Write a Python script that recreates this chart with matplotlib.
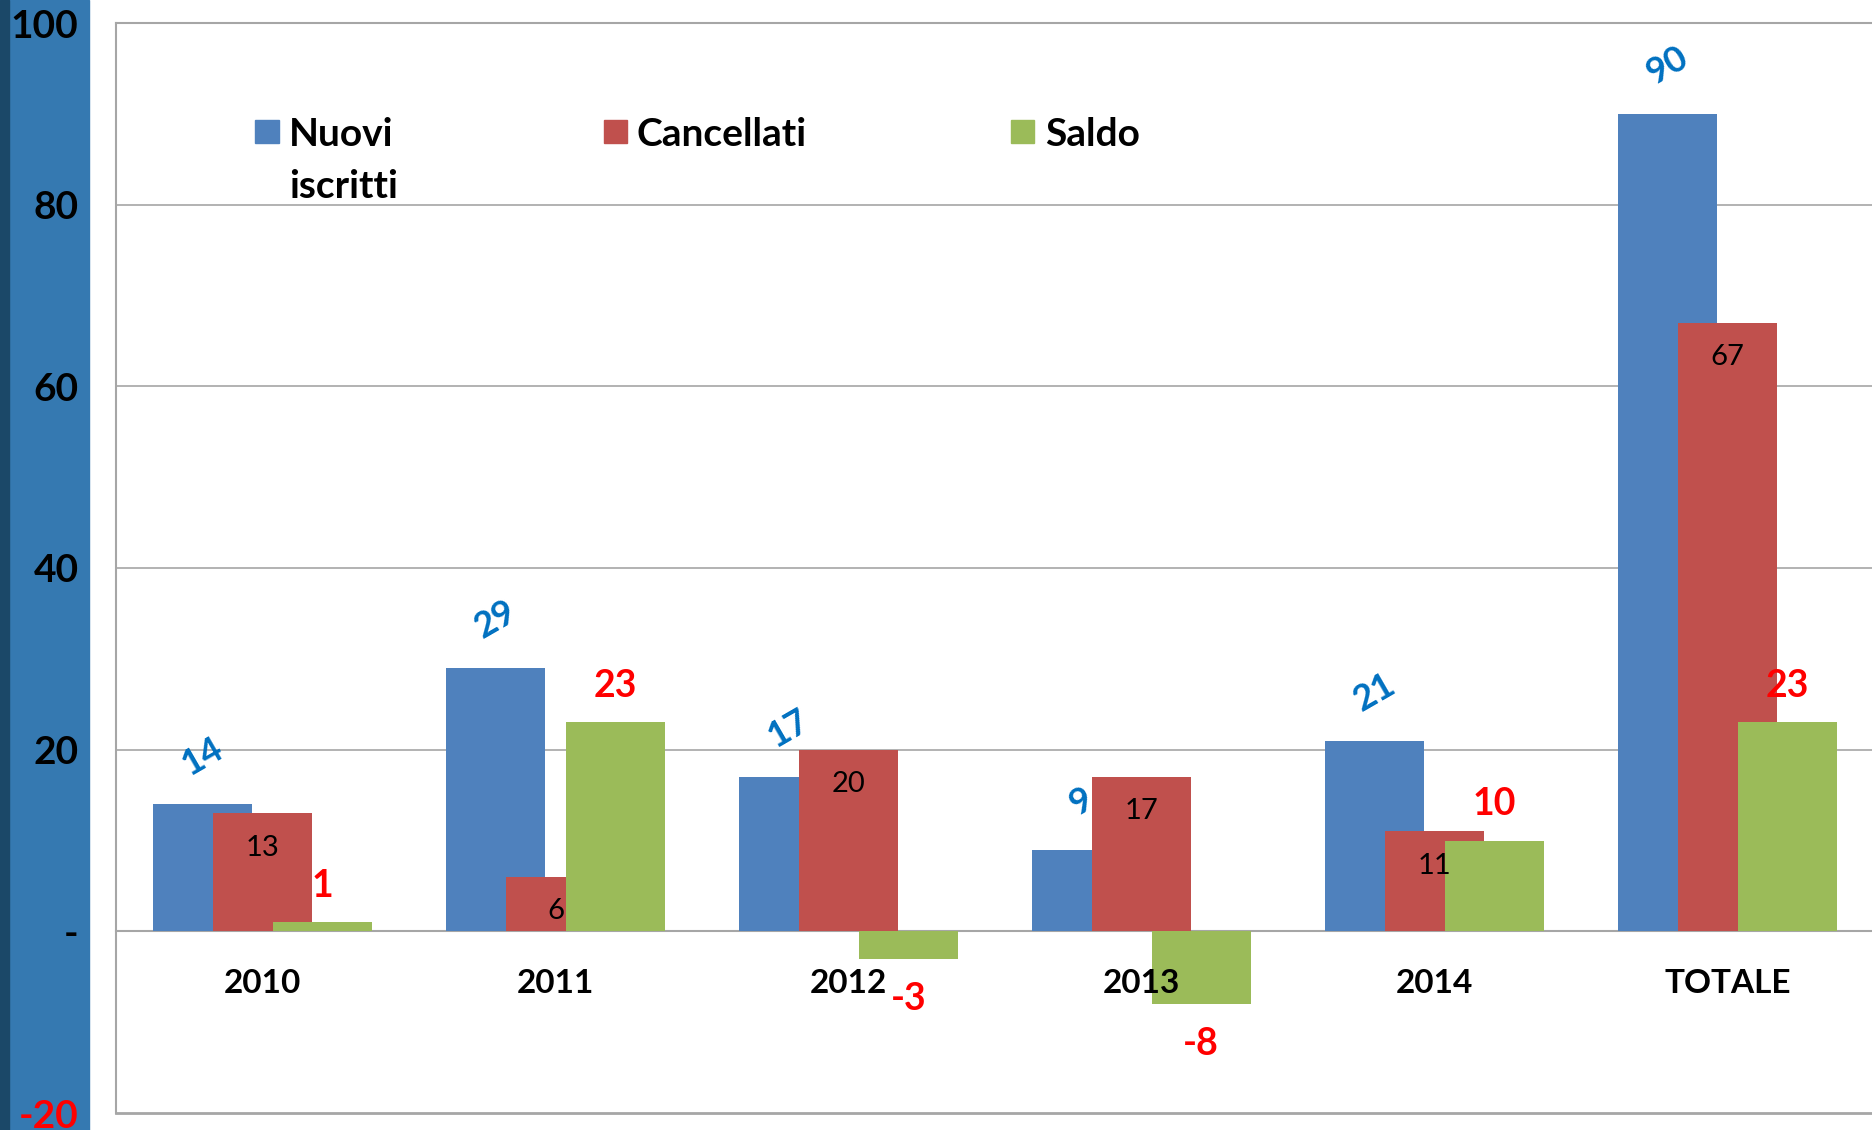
import matplotlib
matplotlib.use("Agg")
import matplotlib.pyplot as plt
from matplotlib.patches import Rectangle
import numpy as np

# dati
categorie = ["2010", "2011", "2012", "2013", "2014", "TOTALE"]
nuovi_iscritti = [14, 29, 17, 9, 21, 90]
cancellati = [13, 6, 20, 17, 11, 67]
saldo = [1, 23, -3, -8, 10, 23]
serie_nomi = ["Nuovi\niscritti", "Cancellati", "Saldo"]

y_ticks = [-20, 0, 20, 40, 60, 80, 100]
y_tick_labels = ["-20", "-", "20", "40", "60", "80", "100"]

BLU = "#4F81BD"
ROSSO = "#C0504D"
VERDE = "#9BBB59"
GRIGIO = "#A6A6A6"

plt.rcParams["font.family"] = ["Lato", "DejaVu Sans"]

W, H = 1872, 1130
fig = plt.figure(figsize=(W / 100, H / 100), dpi=100)
fig.patch.set_facecolor("white")

# fascia blu a sinistra
fig.patches.append(Rectangle((0, 0), 89 / W, 1, transform=fig.transFigure,
                             color="#3579B1", zorder=-2))
fig.patches.append(Rectangle((0, 0), 9 / W, 1, transform=fig.transFigure,
                             color="#1B4868", zorder=-1))

ax = fig.add_axes([116 / W, 1 - 1113 / H, (1874 - 116) / W, (1113 - 23) / H])
ax.set_facecolor("white")

x = np.arange(len(categorie))
larg = 0.338
passo = 0.204

ax.bar(x - passo, nuovi_iscritti, larg, color=BLU, zorder=2)
ax.bar(x, cancellati, larg, color=ROSSO, zorder=3)
ax.bar(x + passo, saldo, larg, color=VERDE, zorder=4)

ax.set_xlim(-0.5, len(categorie) - 0.5)
ax.set_ylim(-20, 100)

# griglia
for v in [20, 40, 60, 80]:
    ax.axhline(v, color=GRIGIO, lw=1.2, zorder=1)
ax.axhline(-20, color=GRIGIO, lw=2, zorder=1, clip_on=False)

ax.spines["right"].set_visible(False)
for s in ["left", "top", "bottom"]:
    ax.spines[s].set_color(GRIGIO)
    ax.spines[s].set_linewidth(1.5)
ax.spines["bottom"].set_position(("data", 0))
ax.spines["bottom"].set_zorder(1.5)

ax.set_yticks(y_ticks)
ax.set_yticklabels(y_tick_labels, fontsize=28, fontweight="bold")
ax.tick_params(axis="y", length=0, pad=27)
for t, v in zip(ax.get_yticklabels(), y_ticks):
    t.set_color("red" if v < 0 else "black")

ax.set_xticks(x)
ax.set_xticklabels(categorie, fontsize=24, fontweight="bold")
ax.tick_params(axis="x", length=0, pad=27)
ax.xaxis.set_zorder(6)

# etichette dati
for xi, v in zip(x - passo, nuovi_iscritti):
    ax.text(xi, v + 5.3, str(v), color="#0070C0", fontsize=26, fontweight="bold",
            rotation=30, ha="center", va="center", zorder=2.5)
for xi, v in zip(x, cancellati):
    ax.text(xi, v - 3.8, str(v), color="black", fontsize=21,
            ha="center", va="center", zorder=5)
for xi, v in zip(x + passo, saldo):
    yy = v + 4 if v >= 0 else v - 4.4
    ax.text(xi, yy, str(v), color="red", fontsize=27, fontweight="bold",
            ha="center", va="center", zorder=5)

# legenda
leg_x = [267, 615, 1023]
leg_col = [BLU, ROSSO, VERDE]
for lx, col, nome in zip(leg_x, leg_col, serie_nomi):
    fig.patches.append(Rectangle(((lx - 11.5) / W, 1 - (131 + 11.5) / H), 23 / W, 23 / H,
                                 transform=fig.transFigure, color=col, zorder=5))
    for i, r in enumerate(nome.split("\n")):
        fig.text((lx + 22) / W, 1 - (131 + 52 * i) / H, r, fontsize=28,
                 fontweight="bold", ha="left", va="center_baseline")

fig.savefig("out.png", dpi=100)
